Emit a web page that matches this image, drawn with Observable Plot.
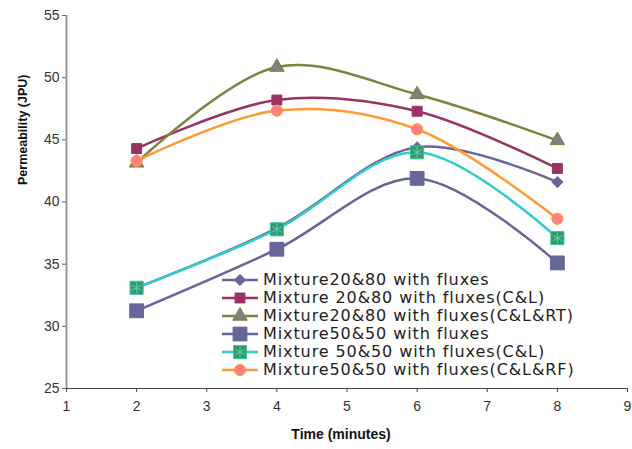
<!DOCTYPE html>
<html><head><meta charset="utf-8">
<script src="https://cdn.jsdelivr.net/npm/d3@7"></script>
<script src="https://cdn.jsdelivr.net/npm/@observablehq/plot@0.6"></script>
<style>
body{margin:0;background:#fff;}
#wrap{position:relative;width:632px;height:449px;}
#legend{position:absolute;left:220px;top:271px;font-family:"DejaVu Sans",sans-serif;font-size:16px;letter-spacing:0.9px;color:#222;}
#legend .row{display:flex;align-items:center;height:18px;line-height:18px;white-space:nowrap;}
#legend svg{margin-right:3px;}
</style></head>
<body><div id="wrap"><div id="legend"></div></div>
<script>
const times = [2, 4, 6, 8];
const seriesNames = [
  "Mixture20&80 with fluxes",
  "Mixture 20&80 with fluxes(C&L)",
  "Mixture20&80 with fluxes(C&L&RT)",
  "Mixture50&50 with fluxes",
  "Mixture 50&50 with fluxes(C&L)",
  "Mixture50&50 with fluxes(C&L&RF)"
];
const mix2080 = [33.1, 37.9, 44.4, 41.6];
const mix2080CL = [44.3, 48.2, 47.3, 42.7];
const mix2080CLRT = [43.15, 50.85, 48.65, 44.95];
const mix5050 = [31.25, 36.2, 41.9, 35.1];
const mix5050CL = [33.1, 37.8, 44.0, 37.1];
const mix5050CLRF = [43.3, 47.35, 45.85, 38.65];
const allValues = [mix2080, mix2080CL, mix2080CLRT, mix5050, mix5050CL, mix5050CLRF];
const xTicks = [1, 2, 3, 4, 5, 6, 7, 8, 9];
const yTicks = [25, 30, 35, 40, 45, 50, 55];

const lineColors = ["#666699", "#993366", "#808040", "#666699", "#33cccc", "#ff9933"];
const markFill = ["#666699", "#993366", "#808080", "#666699", "#339966", "#ff8080"];
const markStroke = ["#666699", "#993366", "#808040", "#666699", "#33cc99", "#ff9933"];
const symbols = ["diamond2", "square", "triangle", "square", "square", "circle"];
const radii = [5.0, 5.6, 5.4, 7.8, 7.4, 5.6];

const data = [];
seriesNames.forEach((s, i) => allValues[i].forEach((v, j) => data.push({series: s, idx: i, t: times[j], v})));

const marks = [
  Plot.ruleY([25], {stroke: "#444", strokeWidth: 1.2}),
  Plot.ruleX([1], {stroke: "#999", strokeWidth: 2})
];
seriesNames.forEach((s, i) => {
  const d = data.filter(e => e.idx === i);
  marks.push(Plot.line(d, {x: "t", y: "v", stroke: lineColors[i], strokeWidth: 2.5, curve: "catmull-rom"}));
});
seriesNames.forEach((s, i) => {
  const d = data.filter(e => e.idx === i);
  marks.push(Plot.dot(d, {x: "t", y: "v", symbol: () => symbols[i], r: radii[i], fill: markFill[i], stroke: markStroke[i], strokeWidth: 1}));
  if (i === 4) marks.push(Plot.dot(d, {x: "t", y: "v", symbol: () => "asterisk", r: 5, stroke: "#66cccc", strokeWidth: 1}));
});

const chart = Plot.plot({
  width: 632, height: 449,
  marginLeft: 66, marginRight: 5, marginTop: 15, marginBottom: 61,
  style: {fontFamily: "Liberation Sans, Arial, sans-serif", fontSize: "13px", color: "#333", background: "#fff"},
  x: {domain: [1, 9]},
  y: {domain: [25, 55]},
  symbol: {type: "identity"},
  marks: [
    ...marks,
    Plot.axisX({ticks: xTicks, tickSize: 4, tickPadding: 9, fontSize: 14, label: null, stroke: "#444"}),
    Plot.axisY({ticks: yTicks, tickSize: 4, tickPadding: 3, fontSize: 14, label: null, stroke: "#666"}),
    Plot.text(["Time (minutes)"], {frameAnchor: "bottom", dx: -6, dy: 50, fontSize: 14, fontWeight: "bold", fill: "#111", text: d => d}),
    Plot.text(["Permeability (JPU)"], {frameAnchor: "left", dx: -44, dy: -17, rotate: -90, fontSize: 12.5, fontWeight: "bold", fill: "#111", text: d => d})
  ]
});
document.getElementById("wrap").prepend(chart);

const legend = document.getElementById("legend");
seriesNames.forEach((s, i) => {
  const row = document.createElement("div");
  row.className = "row";
  const sym = {diamond2: d3.symbolDiamond2, square: d3.symbolSquare, triangle: d3.symbolTriangle, circle: d3.symbolCircle}[symbols[i]];
  const p = d3.symbol(sym, Math.PI * radii[i] * radii[i])();
  let extra = i === 4 ? `<path transform="translate(20,9)" d="${d3.symbol(d3.symbolAsterisk, Math.PI*25)()}" stroke="#66cccc" fill="none"/>` : "";
  row.innerHTML = `<svg width="40" height="18"><line x1="2" x2="38" y1="9" y2="9" stroke="${lineColors[i]}" stroke-width="2.5"/><path transform="translate(20,9)" d="${p}" fill="${markFill[i]}" stroke="${markStroke[i]}"/>${extra}</svg><span>${s}</span>`;
  legend.appendChild(row);
});
</script></body></html>
